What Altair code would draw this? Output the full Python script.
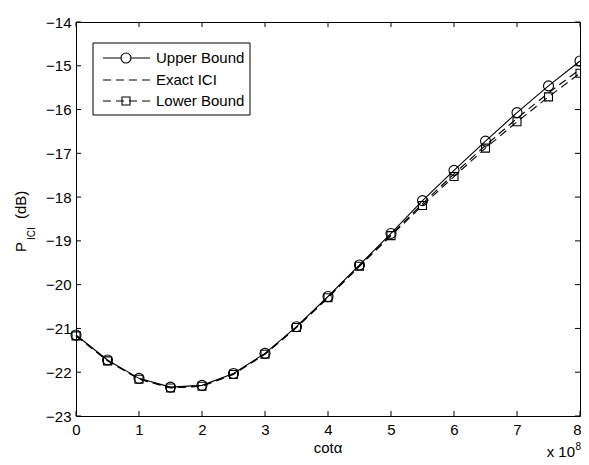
import altair as alt
import pandas as pd

# ---- data ----
x_vals = [0, 0.5, 1, 1.5, 2, 2.5, 3, 3.5, 4, 4.5, 5, 5.5, 6, 6.5, 7, 7.5, 8]
upper = [-21.15, -21.72, -22.14, -22.34, -22.30, -22.03, -21.57, -20.96, -20.27,
         -19.55, -18.83, -18.08, -17.39, -16.72, -16.07, -15.46, -14.89]
exact = [-21.16, -21.73, -22.15, -22.35, -22.31, -22.04, -21.58, -20.97, -20.29,
         -19.57, -18.86, -18.15, -17.47, -16.82, -16.20, -15.62, -15.08]
lower = [-21.17, -21.74, -22.16, -22.36, -22.32, -22.05, -21.59, -20.98, -20.30,
         -19.58, -18.88, -18.19, -17.53, -16.88, -16.28, -15.71, -15.17]
series_names = ["Upper Bound", "Exact ICI", "Lower Bound"]
x_ticks = [0, 1, 2, 3, 4, 5, 6, 7, 8]
y_ticks = [-23, -22, -21, -20, -19, -18, -17, -16, -15, -14]

FONT = "Liberation Sans"
FS = 15
W, H = 504, 394

df_u = pd.DataFrame({"x": x_vals, "y": upper})
df_e = pd.DataFrame({"x": x_vals, "y": exact})
df_l = pd.DataFrame({"x": x_vals, "y": lower})
one = pd.DataFrame({"k": [0]})

xs = alt.Scale(domain=[0, 8], nice=False, zero=False)
ys = alt.Scale(domain=[-23, -14], nice=False, zero=False)
x_axis = alt.Axis(values=x_ticks, ticks=False, domain=False, grid=False, labelFlush=False,
                  labelFont=FONT, labelFontSize=FS, labelColor="black", labelPadding=6,
                  labelOffset={"condition": {"test": "datum.value == 8", "value": -3}, "value": 0},
                  title=None, format="d")
y_axis = alt.Axis(values=y_ticks, ticks=False, domain=False, grid=False, labelFlush=False,
                  labelFont=FONT, labelFontSize=FS, labelColor="black", labelPadding=5,
                  title=None, format="d")
X = alt.X("x:Q", scale=xs, axis=x_axis)
Y = alt.Y("y:Q", scale=ys, axis=y_axis)

DASH = [8, 5]
LW = 1.1

up_line = alt.Chart(df_u).mark_line(color="black", strokeWidth=LW).encode(x=X, y=Y)
up_pts = alt.Chart(df_u).mark_point(shape="circle", size=100, color="black", filled=False,
                                    strokeWidth=LW, opacity=1).encode(x=X, y=Y)
ex_line = alt.Chart(df_e).mark_line(color="black", strokeWidth=LW, strokeDash=DASH).encode(x=X, y=Y)
lo_line = alt.Chart(df_l).mark_line(color="black", strokeWidth=LW, strokeDash=DASH).encode(x=X, y=Y)
lo_pts = alt.Chart(df_l).mark_point(shape="square", size=64, color="black", filled=False,
                                    strokeWidth=LW, opacity=1).encode(x=X, y=Y)

# inside tick marks on all four sides
xt = pd.DataFrame({"x": x_ticks})
yt = pd.DataFrame({"y": y_ticks})
tk = dict(color="black", strokeWidth=1)
t_bottom = alt.Chart(xt).mark_rule(**tk).encode(x=X, y=alt.value(H), y2=alt.value(H - 5))
t_top = alt.Chart(xt).mark_rule(**tk).encode(x=X, y=alt.value(0), y2=alt.value(5))
t_left = alt.Chart(yt).mark_rule(**tk).encode(y=Y, x=alt.value(0), x2=alt.value(5))
t_right = alt.Chart(yt).mark_rule(**tk).encode(y=Y, x=alt.value(W), x2=alt.value(W - 5))

# legend
lg_box = alt.Chart(one).mark_rect(fill="white", stroke="black", strokeWidth=1).encode(
    x=alt.value(17), x2=alt.value(174), y=alt.value(21), y2=alt.value(93))
rows = [36, 58, 79]
lg = [lg_box]
lg.append(alt.Chart(one).mark_rule(color="black", strokeWidth=LW).encode(
    x=alt.value(27), x2=alt.value(74), y=alt.value(rows[0])))
lg.append(alt.Chart(one).mark_point(shape="circle", size=100, color="black", filled=False,
                                    strokeWidth=LW, opacity=1, fill="white").encode(
    x=alt.value(50), y=alt.value(rows[0])))
lg.append(alt.Chart(one).mark_rule(color="black", strokeWidth=LW, strokeDash=DASH).encode(
    x=alt.value(27), x2=alt.value(74), y=alt.value(rows[1])))
lg.append(alt.Chart(one).mark_rule(color="black", strokeWidth=LW, strokeDash=DASH).encode(
    x=alt.value(27), x2=alt.value(74), y=alt.value(rows[2])))
lg.append(alt.Chart(one).mark_point(shape="square", size=64, color="black", filled=False,
                                    strokeWidth=LW, opacity=1).encode(
    x=alt.value(50), y=alt.value(rows[2])))
for name, r in zip(series_names, rows):
    lg.append(alt.Chart(one).mark_text(text=name, align="left", baseline="middle",
                                       font=FONT, fontSize=FS, color="black").encode(
        x=alt.value(80), y=alt.value(r)))

# axis titles
txt = dict(font=FONT, color="black")
yt_p = alt.Chart(one).mark_text(text="P", angle=270, align="left", baseline="middle",
                                fontSize=FS, **txt).encode(x=alt.value(-55), y=alt.value(230))
yt_ici = alt.Chart(one).mark_text(text="ICI", angle=270, align="left", baseline="middle",
                                  fontSize=10, **txt).encode(x=alt.value(-44), y=alt.value(218))
yt_db = alt.Chart(one).mark_text(text="(dB)", angle=270, align="left", baseline="middle",
                                 fontSize=FS, **txt).encode(x=alt.value(-55), y=alt.value(197))
xt_title = alt.Chart(one).mark_text(text="cotα", align="center", baseline="alphabetic",
                                    fontSize=FS, **txt).encode(x=alt.value(W / 2), y=alt.value(431))
x10 = alt.Chart(one).mark_text(text="x 10", align="right", baseline="alphabetic",
                               fontSize=FS, **txt).encode(x=alt.value(499), y=alt.value(435))
x10e = alt.Chart(one).mark_text(text="8", align="left", baseline="alphabetic",
                                fontSize=10, **txt).encode(x=alt.value(499.5), y=alt.value(428))

chart = alt.layer(
    t_bottom, t_top, t_left, t_right,
    ex_line, lo_line, up_line, up_pts, lo_pts,
    *lg, yt_p, yt_ici, yt_db, xt_title, x10, x10e,
).properties(
    width=W, height=H,
    autosize=alt.AutoSizeParams(type="none"),
    padding={"left": 68, "top": 14, "right": 1, "bottom": 44},
).configure_view(stroke="black", strokeWidth=1)

chart.save("out.html", embed_options={"renderer": "svg", "actions": False})
